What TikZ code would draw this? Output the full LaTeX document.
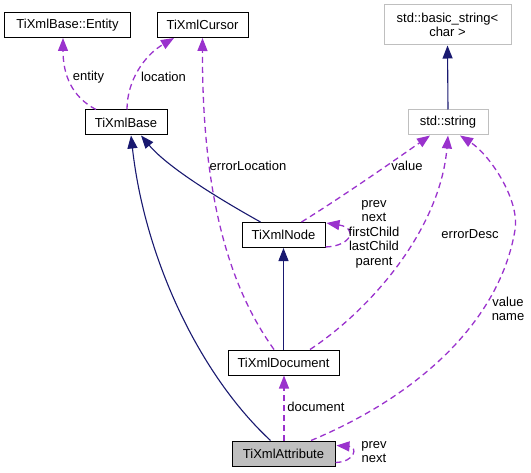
\documentclass[tikz,border=0pt]{standalone}
\usepackage{fontspec}
\setmainfont{Liberation Sans}
\usetikzlibrary{arrows.meta,calc}
\definecolor{depc}{HTML}{9A32CD}
\definecolor{inhc}{HTML}{191970}
\definecolor{gb}{HTML}{BFBFBF}
\begin{document}
\begin{tikzpicture}[x=1bp,y=-1bp,
  every node/.style={font=\fontsize{13bp}{14.5bp}\selectfont},
  cls/.style={draw=black, line width=1bp, fill=white, inner sep=0pt, minimum height=25bp, align=center},
  ext/.style={cls, draw=gb},
  dep/.style={draw=depc, line width=1.3bp, dash pattern=on 6bp off 4bp, -{Triangle[length=13bp,width=10bp]}},
  inh/.style={draw=inhc, line width=1.1bp, -{Triangle[length=13bp,width=10bp]}},
  lbl/.style={inner sep=0pt, align=center}]
\useasboundingbox (0,0) rectangle (531,473);
% classes
\node[cls, minimum width=125bp] (ent) at (67.5,25) {TiXmlBase::Entity};
\node[cls, minimum width=91bp] (cur) at (202.5,25) {TiXmlCursor};
\node[ext, minimum width=127bp, minimum height=40bp] (bstr) at (447.5,25) {std::basic\_string<\\char >};
\node[cls, minimum width=82bp] (base) at (126,122.5) {TiXmlBase};
\node[ext, minimum width=80bp] (str) at (448,122.5) {std::string};
\node[cls, minimum width=83bp] (nodeb) at (283.5,235) {TiXmlNode};
\node[cls, minimum width=111bp] (doc) at (283.5,362.5) {TiXmlDocument};
\node[cls, fill=gb, minimum width=103bp] (attr) at (283.5,453.5) {TiXmlAttribute};
% inheritance
\draw[inh] (str.north) -- (bstr.south);
\draw[inh] (doc.north) -- (nodeb.south);
\draw[inh] ($(nodeb.north)+(-23,0)$) .. controls (230,205) and (170,170) .. ($(base.south)+(15,0)$);
\draw[inh] ($(attr.north)+(-13,0)$) .. controls (200,375) and (145,260) .. ($(base.south)+(5,0)$);
% usage
\draw[dep] ($(base.north)+(-30,0)$) .. controls (72,97) and (63,75) .. ($(ent.south)+(-4.5,0)$);
\draw[dep] ($(base.north)+(1,0)$) .. controls (127,80) and (145,55) .. ($(cur.south)+(-28.5,0)$);
\draw[dep] ($(doc.north)+(-9.5,0)$) .. controls (235,295) and (202,210) .. (cur.south);
\draw[dep] ($(nodeb.north)+(18,0)$) .. controls (345,195) and (395,160) .. ($(str.south)+(-18,0)$);
\draw[dep] ($(doc.north)+(26.5,0)$) .. controls (370,310) and (440,230) .. (str.south);
\draw[dep] ($(attr.north)+(27.5,0)$) .. controls (420,395) and (500,320) .. (515,230)
   .. controls (520,200) and (490,155) .. ($(str.south)+(12,0)$);
\draw[dep] ($(nodeb.south east)+(0,-1)$) .. controls (352,246) and (358,228) .. ($(nodeb.north east)+(1,1)$);
\draw[dep] ($(attr.north)+(0.5,0)$) -- ($(doc.south)+(0.5,0)$);
\draw[dep] ($(attr.south east)+(0,-4)$) .. controls (355,462) and (358,447) .. ($(attr.north east)+(1,5)$);
% labels
\node[lbl] (l1) at (88.5,77) {entity};
\node[lbl] (l2) at (163.5,77) {location};
\node[lbl] (l3) at (248,166) {errorLocation};
\node[lbl] (l4) at (407,166) {value};
\node[lbl] (l5) at (470,234) {errorDesc};
\node[lbl] (l6) at (508,309) {value\\name};
\node[lbl] (l7) at (374,234) {prev\\next\\firstChild\\lastChild\\parent};
\node[lbl] (l8) at (316,407) {document};
\node[lbl] (l9) at (374,452) {prev\\next};
\end{tikzpicture}
\end{document}
